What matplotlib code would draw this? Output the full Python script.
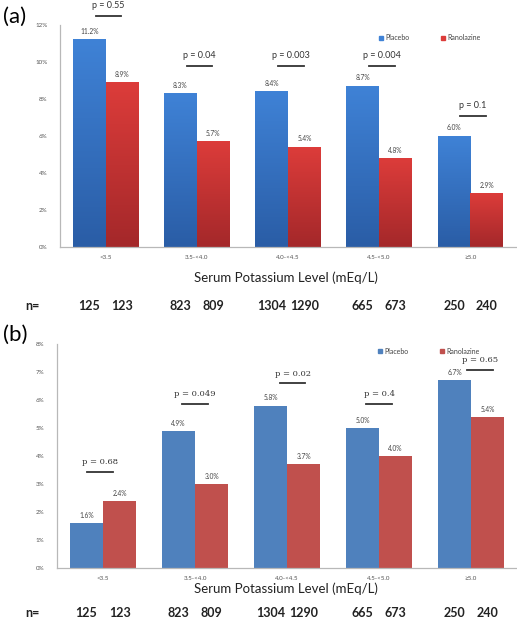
import matplotlib
matplotlib.use("Agg")
import matplotlib.pyplot as plt
import matplotlib.transforms as mtransforms
from matplotlib.colors import LinearSegmentedColormap
from matplotlib.patches import Patch
import numpy as np

# ── data ──
categories = ["<3.5", "3.5-<4.0", "4.0-<4.5", "4.5-<5.0", "\u22655.0"]
series = ["Placebo", "Ranolazine"]

placebo_a = [11.2, 8.3, 8.4, 8.7, 6.0]
ranolazine_a = [8.9, 5.7, 5.4, 4.8, 2.9]
pvals_a = ["p = 0.55", "p = 0.04", "p = 0.003", "p = 0.004", "p = 0.1"]
pline_a = [12.5, 9.8, 9.8, 9.8, 7.1]

placebo_b = [1.6, 4.9, 5.8, 5.0, 6.7]
ranolazine_b = [2.4, 3.0, 3.7, 4.0, 5.4]
pvals_b = ["p = 0.68", "p = 0.049", "p = 0.02", "p = 0.4", "p = 0.65"]
pline_b = [3.43, 5.86, 6.6, 5.86, 7.07]
poff_b = [-0.03, 0.0, 0.06, 0.0, 0.1]

n_placebo = [125, 823, 1304, 665, 250]
n_ranolazine = [123, 809, 1290, 673, 240]

W, H = 517, 625
fig = plt.figure(figsize=(W / 100, H / 100), dpi=100)
plt.rcParams["font.family"] = ["Lato", "DejaVu Sans"]

BLUE_A = ("#3f82d6", "#2a5da6")
RED_A = ("#dc3c3a", "#a4282a")
BLUE_B = "#4f81bd"
RED_B = "#c0504d"

bw = 0.36


def px_ax(left, top, right, bottom):
    return fig.add_axes([left / W, 1 - bottom / H, (right - left) / W, (bottom - top) / H])


def style_axes(ax, ymax, step):
    ax.set_xlim(-0.5, 4.5)
    ax.set_ylim(0, ymax)
    ax.set_yticks(np.arange(0, ymax + step / 2, step))
    ax.set_yticklabels([f"{int(v)}%" for v in np.arange(0, ymax + step / 2, step)])
    ax.set_xticks(range(len(categories)))
    ax.set_xticklabels(categories)
    for s in ["top", "right"]:
        ax.spines[s].set_visible(False)
    for s in ["left", "bottom"]:
        ax.spines[s].set_color("#b8b8b8")
        ax.spines[s].set_linewidth(0.9)
    ax.tick_params(axis="both", length=0, labelsize=4.5, colors="#555555")
    ax.tick_params(axis="y", pad=9)
    ax.tick_params(axis="x", pad=6)


def gradient_bars(ax, bars, cols):
    cmap = LinearSegmentedColormap.from_list("g", [cols[1], cols[0]])
    grad = np.linspace(0, 1, 100).reshape(-1, 1)
    for b in bars:
        x0, w, h = b.get_x(), b.get_width(), b.get_height()
        ax.imshow(grad, extent=[x0, x0 + w, 0, h], origin="lower",
                  aspect="auto", cmap=cmap, zorder=2)
        b.set_visible(False)


def value_labels(ax, xs, vals, dy):
    for x, v in zip(xs, vals):
        ax.text(x, v + dy, f"{v:.1f}%", ha="center", va="bottom",
                fontsize=4.8, color="#444444")


def n_row(ax, ypx):
    tr = mtransforms.blended_transform_factory(ax.transData, fig.transFigure)
    x = np.arange(len(categories))
    fig.text(32 / W, 1 - ypx / H, "n=", ha="center", va="center",
             fontsize=9, fontweight="bold", color="#222222")
    for i in x:
        ax.text(i - bw / 2, 1 - ypx / H, str(n_placebo[i]), transform=tr,
                ha="center", va="center", fontsize=9, fontweight="bold", color="#222222")
        ax.text(i + bw / 2, 1 - ypx / H, str(n_ranolazine[i]), transform=tr,
                ha="center", va="center", fontsize=9, fontweight="bold", color="#222222")


# ── panel (a) ──
axa = px_ax(60, 25, 516, 247)
style_axes(axa, 12, 2)
x = np.arange(len(categories))
ba = axa.bar(x - bw / 2, placebo_a, bw, color=BLUE_A[0])
br = axa.bar(x + bw / 2, ranolazine_a, bw, color=RED_A[0])
gradient_bars(axa, ba, BLUE_A)
gradient_bars(axa, br, RED_A)
axa.set_xlim(-0.5, 4.5)
axa.set_ylim(0, 12)
value_labels(axa, x - bw / 2, placebo_a, 0.25)
value_labels(axa, x + bw / 2, ranolazine_a, 0.25)
for i, (p, yl) in enumerate(zip(pvals_a, pline_a)):
    xc = i + 0.03
    axa.plot([xc - 0.14, xc + 0.14], [yl, yl], color="#333333", lw=1.3, clip_on=False)
    axa.text(xc, yl + 0.3, p, ha="center", va="bottom", fontsize=6.5,
             color="#333333", clip_on=False)
fig.text(3 / W, 1 - 17 / H, "(a)", fontsize=16, va="center", ha="left")
fig.text(286 / W, 1 - 278 / H, "Serum Potassium Level (mEq/L)", ha="center",
         va="center", fontsize=9.5, color="#222222")
n_row(axa, 306)
axa.legend(handles=[Patch(color=BLUE_A[0], label=series[0]),
                    Patch(color=RED_A[0], label=series[1])],
           loc="center left", bbox_to_anchor=(373 / W, 1 - 38 / H),
           bbox_transform=fig.transFigure, ncol=2, frameon=False, fontsize=5,
           handlelength=0.6, handleheight=0.6, handletextpad=0.3,
           columnspacing=4.5, labelcolor="#444444")

# ── panel (b) ──
axb = px_ax(57, 344, 517, 568)
style_axes(axb, 8, 1)
axb.bar(x - bw / 2, placebo_b, bw, color=BLUE_B, zorder=2)
axb.bar(x + bw / 2, ranolazine_b, bw, color=RED_B, zorder=2)
value_labels(axb, x - bw / 2, placebo_b, 0.15)
value_labels(axb, x + bw / 2, ranolazine_b, 0.15)
for i, (p, yl, off) in enumerate(zip(pvals_b, pline_b, poff_b)):
    xc = i + off
    axb.plot([xc - 0.14, xc + 0.14], [yl, yl], color="#333333", lw=1.3, clip_on=False)
    axb.text(xc, yl + 0.2, p, ha="center", va="bottom", fontsize=6,
             color="#333333", family=["DejaVu Serif"])
fig.text(3 / W, 1 - 335 / H, "(b)", fontsize=16, va="center", ha="left")
fig.text(286 / W, 1 - 589 / H, "Serum Potassium Level (mEq/L)", ha="center",
         va="center", fontsize=9.5, color="#222222")
n_row(axb, 613)
axb.legend(handles=[Patch(color=BLUE_B, label=series[0]),
                    Patch(color=RED_B, label=series[1])],
           loc="center left", bbox_to_anchor=(372 / W, 1 - 351 / H),
           bbox_transform=fig.transFigure, ncol=2, frameon=False, fontsize=5,
           handlelength=0.6, handleheight=0.6, handletextpad=0.3,
           columnspacing=4.5, labelcolor="#444444")

fig.savefig("out.png", dpi=100)
